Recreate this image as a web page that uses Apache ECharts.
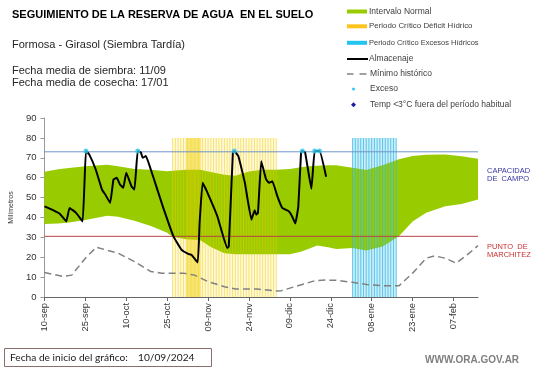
<!DOCTYPE html>
<html><head><meta charset="utf-8">
<script src="https://cdn.jsdelivr.net/npm/echarts@6/dist/echarts.min.js"></script>
<style>html,body{margin:0;padding:0;background:#fff}#c{width:541px;height:368px}</style>
</head><body><div id="c"></div>
<script>
// ---- data (x = days since 10-sep-2024) ----
const tickLabels = ['10-sep','25-sep','10-oct','25-oct','09-nov','24-nov','09-dic','24-dic','08-ene','23-ene','07-feb'];
const tickDays = [0,15,30,45,60,75,90,105,120,135,150];
const xMax = 159;

const bandDays = [0,5,9,15,23,27,33,39,45,47,52,57,61,66,70,75,80,85,90,94,97,100,104,107,113,118,124,130,135,140,147,153,159];
const bandHigh = [63,64.2,64.8,65.7,66.5,65.7,64.3,64,63.2,63.5,64,64,62.8,61.5,61,63.1,64,64,64.3,65.2,65.8,66,66.3,66.2,65,63.8,66.3,69.2,70.9,71.5,71.6,70.8,69.5];
const bandLow  = [36.7,37,37.4,38.7,40.8,40.4,38.4,35.7,32.3,30.3,29,28.6,25.2,22,21.5,21.5,21.5,21.5,21.5,22.7,24.2,25.9,25,24.1,24.6,23.4,25.4,30.5,38,42.3,45.6,46.8,49];

const almDays = [0,3.3,5.6,8,9.2,11.6,14,15.2,16.4,18.8,21.1,22.3,24.1,25.3,26.5,27.7,28.9,30,31.9,33,34.2,35.4,36,37.2,39,41.4,43.8,47.3,50.3,52.7,53.9,56.2,56.9,58,59.8,63.4,67,67.6,69.1,69.6,71.1,73.5,75.9,77.1,77.7,78.3,79.5,81.3,82.4,83.6,85.4,87.2,89.6,90.8,92,93.1,94.1,94.6,95.6,97.9,99.1,100.9,103.3];
const almVals = [45.6,43.6,41.9,38,44.8,42.3,38,73.4,71.7,64.1,54,51.5,47.3,59.1,59.9,56.6,54.9,62.5,55.7,54,73.4,72.6,70,70.9,64.1,54,43.9,30.5,23.7,21.7,21.2,17.3,37.2,57.4,52.4,40.6,24.6,25.4,72.6,73.4,70.9,57.4,38.9,43.6,41.4,42.3,68.3,59.1,57.4,58.2,50.7,44.8,43.1,40.6,37,45.6,72.6,73.4,72.6,54.4,73.4,73.4,60.5];

const minDays = [0,7,10,15,19,27,33,39,43,51,55,60,66,70,78,85,87,93,99,103,107,113,119,125,130,135,140,143,147,151,155,159];
const minVals = [12.3,10.3,11,19.5,25,22,17.8,12.8,12,12,11,7.7,5.2,4,4,3,3.2,5.7,8.1,8.5,8.4,7.4,6.1,5.6,5.6,12,19.5,20.7,19.5,17,21.2,25.8];

const excesoDays = [15.2,34.2,69.6,94.6,99.1,100.9];
const excesoVals = [73.4,73.4,73.4,73.4,73.4,73.4];

const capacidadCampo = 73;
const puntoMarchitez = 30.5;
const deficitPeriod = [47, 85];
const deficitPeak = [52, 57];
const excesoPeriod = [113, 129];
const periodTop = 80;

// ---- build ----
const pairs = (xs, ys) => xs.map((x, i) => [x, ys[i]]);
function stripes(a, b, offset) {
  const out = [];
  for (let d = a + offset; d <= b + 0.001; d += 1) out.push([d, periodTop]);
  return out;
}
const FONT = '"Liberation Sans", Arial, sans-serif';

const chart = echarts.init(document.getElementById('c'), null, {renderer: 'canvas'});
chart.setOption({
  animation: false,
  backgroundColor: '#fff',
  grid: {left: 33, right: 63, top: 118, bottom: 71},
  xAxis: {
    type: 'value', min: 0, max: xMax, interval: 15,
    axisLine: {show: true, lineStyle: {color: '#666', width: 1}},
    axisTick: {show: true, length: 4, lineStyle: {color: '#666'}, customValues: tickDays},
    splitLine: {show: false},
    axisLabel: {
      customValues: tickDays, rotate: 90, margin: 6,
      fontFamily: FONT, fontSize: 9.3, color: '#333',
      formatter: v => tickLabels[tickDays.indexOf(v)] || ''
    }
  },
  yAxis: {
    type: 'value', min: 0, max: 90, interval: 10,
    name: 'Milímetros', nameLocation: 'middle', nameGap: 25, nameRotate: 90,
    nameTextStyle: {fontFamily: FONT, fontSize: 7, color: '#333'},
    axisLine: {show: true, lineStyle: {color: '#999', width: 1}},
    axisTick: {show: true, length: 4, lineStyle: {color: '#999'}},
    splitLine: {show: false},
    axisLabel: {fontFamily: FONT, fontSize: 9.5, color: '#333', margin: 8}
  },
  series: [
    {type: 'custom', data: bandDays.map((d, i) => [d, bandHigh[i], bandLow[i]]),
     encode: {x: 0, y: [1, 2]}, z: 1, silent: true,
     renderItem: function (params, api) {
       if (params.dataIndex !== 0) return null;
       const pts = [];
       for (let i = 0; i < bandDays.length; i++) pts.push(api.coord([bandDays[i], bandHigh[i]]));
       for (let i = bandDays.length - 1; i >= 0; i--) pts.push(api.coord([bandDays[i], bandLow[i]]));
       return {type: 'polygon', shape: {points: pts}, style: {fill: '#99cc00'}};
     }},
    {type: 'bar', data: stripes(deficitPeriod[0], deficitPeriod[1], 0), barWidth: 1, barGap: '-100%',
     itemStyle: {color: 'rgba(240,204,0,0.5)'}, z: 2, silent: true,
     markArea: {silent: true, itemStyle: {color: 'rgba(255,228,70,0.18)'},
       data: [[{xAxis: deficitPeriod[0], yAxis: 0}, {xAxis: deficitPeriod[1], yAxis: periodTop}]]}},
    {type: 'bar', data: stripes(deficitPeak[0], deficitPeak[1], 0.5), barWidth: 1, barGap: '-100%',
     itemStyle: {color: 'rgba(240,204,0,0.55)'}, z: 2, silent: true,
     markArea: {silent: true, itemStyle: {color: 'rgba(245,210,0,0.25)'},
       data: [[{xAxis: deficitPeak[0], yAxis: 0}, {xAxis: deficitPeak[1] + 0.5, yAxis: periodTop}]]}},
    {type: 'bar', data: stripes(excesoPeriod[0], excesoPeriod[1], 0), barWidth: 1, barGap: '-100%',
     itemStyle: {color: 'rgba(50,185,230,0.75)'}, z: 2, silent: true,
     markArea: {silent: true, itemStyle: {color: 'rgba(90,200,235,0.3)'},
       data: [[{xAxis: excesoPeriod[0], yAxis: 0}, {xAxis: excesoPeriod[1], yAxis: periodTop}]]}},
    {type: 'line', data: [[0, capacidadCampo], [xMax, capacidadCampo]], symbol: 'none',
     lineStyle: {color: '#7094c8', width: 1}, z: 3, silent: true},
    {type: 'line', data: [[0, puntoMarchitez], [xMax, puntoMarchitez]], symbol: 'none',
     lineStyle: {color: '#b84444', width: 1}, z: 3, silent: true},
    {type: 'line', data: pairs(minDays, minVals), symbol: 'none',
     lineStyle: {color: '#808080', width: 1.5, type: [7, 4]}, z: 4, silent: true},
    {type: 'line', data: pairs(almDays, almVals), symbol: 'none', smooth: 0.1,
     lineStyle: {color: '#000', width: 2}, z: 5, silent: true},
    {type: 'scatter', data: pairs(excesoDays, excesoVals), symbol: 'circle', symbolSize: 5,
     itemStyle: {color: '#33c8f0'}, z: 6, silent: true}
  ],
  graphic: [
    {type: 'text', style: {text: 'SEGUIMIENTO DE LA RESERVA DE AGUA  EN EL SUELO', x: 12, y: 15, font: 'bold 11px ' + FONT, fill: '#000', verticalAlign: 'middle'}},
    {type: 'text', style: {text: 'Formosa - Girasol (Siembra Tardía)', x: 12, y: 44.5, font: '11px ' + FONT, fill: '#262626', verticalAlign: 'middle'}},
    {type: 'text', style: {text: 'Fecha media de siembra: 11/09', x: 12, y: 71, font: '11px ' + FONT, fill: '#262626', verticalAlign: 'middle'}},
    {type: 'text', style: {text: 'Fecha media de cosecha: 17/01', x: 12, y: 82.7, font: '11px ' + FONT, fill: '#262626', verticalAlign: 'middle'}},
    // legend
    {type: 'rect', shape: {x: 347, y: 9.5, width: 20, height: 4}, style: {fill: '#99cc00'}},
    {type: 'text', style: {text: 'Intervalo Normal', x: 369, y: 11.7, font: '8.5px ' + FONT, fill: '#404040', verticalAlign: 'middle'}},
    {type: 'rect', shape: {x: 347, y: 24.3, width: 20, height: 4}, style: {fill: '#fcc41c'}},
    {type: 'text', style: {text: 'Periodo Crítico Déficit Hídrico', x: 369, y: 26.2, font: '7.9px ' + FONT, fill: '#404040', verticalAlign: 'middle'}},
    {type: 'rect', shape: {x: 347, y: 40.8, width: 20, height: 4}, style: {fill: '#22c4f0'}},
    {type: 'text', style: {text: 'Periodo Crítico Excesos Hídricos', x: 369, y: 42.7, font: '7.5px ' + FONT, fill: '#404040', verticalAlign: 'middle'}},
    {type: 'line', shape: {x1: 347, y1: 59, x2: 368, y2: 59}, style: {stroke: '#000', lineWidth: 2}},
    {type: 'text', style: {text: 'Almacenaje', x: 369, y: 59, font: '8.5px ' + FONT, fill: '#404040', verticalAlign: 'middle'}},
    {type: 'line', shape: {x1: 347, y1: 74, x2: 353.5, y2: 74}, style: {stroke: '#808080', lineWidth: 1.5}},
    {type: 'line', shape: {x1: 359.5, y1: 74, x2: 366.5, y2: 74}, style: {stroke: '#808080', lineWidth: 1.5}},
    {type: 'text', style: {text: 'Mínimo histórico', x: 370, y: 74, font: '8.5px ' + FONT, fill: '#404040', verticalAlign: 'middle'}},
    {type: 'circle', shape: {cx: 353.5, cy: 89, r: 1.5}, style: {fill: '#33c8f0'}},
    {type: 'text', style: {text: 'Exceso', x: 370, y: 89, font: '8.5px ' + FONT, fill: '#404040', verticalAlign: 'middle'}},
    {type: 'polygon', shape: {points: [[353.5, 102.3], [356, 104.8], [353.5, 107.3], [351, 104.8]]}, style: {fill: '#1f1f9c'}},
    {type: 'text', style: {text: 'Temp <3°C fuera del período habitual', x: 370, y: 104.8, font: '8.5px ' + FONT, fill: '#404040', verticalAlign: 'middle'}},
    // right labels
    {type: 'text', style: {text: 'CAPACIDAD', x: 487, y: 170.7, font: '7.5px ' + FONT, fill: '#3535a8', verticalAlign: 'middle'}},
    {type: 'text', style: {text: 'DE  CAMPO', x: 487, y: 179, font: '7.5px ' + FONT, fill: '#3535a8', verticalAlign: 'middle'}},
    {type: 'text', style: {text: 'PUNTO  DE', x: 487, y: 246.7, font: '7.5px ' + FONT, fill: '#c83232', verticalAlign: 'middle'}},
    {type: 'text', style: {text: 'MARCHITEZ', x: 487, y: 255, font: '7.5px ' + FONT, fill: '#c83232', verticalAlign: 'middle'}},
    // bottom
    {type: 'rect', shape: {x: 4.5, y: 348.5, width: 207, height: 18}, style: {fill: '#fff', stroke: '#8c6d6d', lineWidth: 1}},
    {type: 'text', style: {text: 'Fecha de inicio del gráfico:', x: 10, y: 358, font: '10.2px Lato, ' + FONT, fill: '#1a1a1a', verticalAlign: 'middle'}},
    {type: 'text', style: {text: '10/09/2024', x: 138, y: 358, font: '10.2px Lato, ' + FONT, fill: '#1a1a1a', verticalAlign: 'middle'}},
    {type: 'text', style: {text: 'WWW.ORA.GOV.AR', x: 425, y: 360, font: 'bold 10px ' + FONT, fill: '#7f7f7f', verticalAlign: 'middle'}}
  ]
});
</script></body></html>
